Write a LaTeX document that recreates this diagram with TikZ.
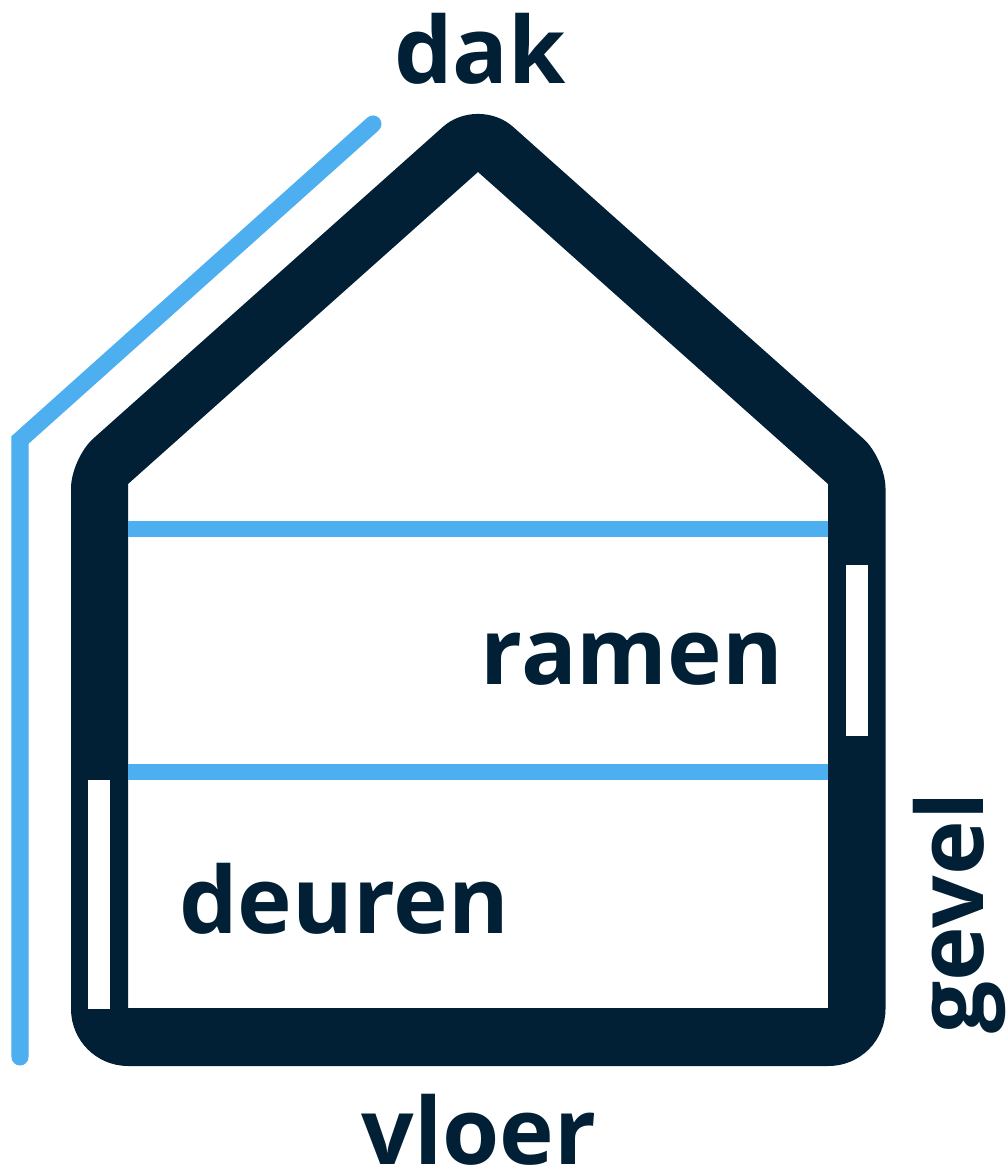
\documentclass[tikz,border=0pt]{standalone}
\usepackage{fontspec}
\setmainfont{Open Sans}
\definecolor{housedark}{HTML}{012035}
\definecolor{lineblue}{HTML}{4DAEF0}
\tikzset{
    label text/.style={font=\fontsize{26.3}{30}\selectfont\bfseries, text=housedark, anchor=base, inner sep=0pt},
    blue line/.style={draw=lineblue, line width=0.17cm},
    window/.style={fill=white}
}
\begin{document}
\begin{tikzpicture}[x=0.01cm, y=-0.01cm]
    \useasboundingbox (0,0) rectangle (1007,1171);

    % House walls
    \fill[housedark, even odd rule]
        (680,275.7) [rounded corners=0.3cm] -- (885.5,458.4)
        [rounded corners=0.57cm] -- (885.5,1066) -- (71,1066)
        [rounded corners=0.3cm] -- (71,458.4) [rounded corners=0.47cm] -- (478,95.6)
        [sharp corners] -- cycle
        (478,172) -- (828,484) -- (828,1008) -- (128,1008) -- (128,484) -- cycle;
    % Floors
    \draw[blue line, line width=0.16cm] (128,529) -- (828,529);
    \draw[blue line, line width=0.16cm] (128,772) -- (828,772);
    % Windows and door
    \fill[window] (846,565) rectangle (868,736);
    \fill[window] (88,780) rectangle (110,1009);
    % Outer line
    \draw[blue line, line cap=round, miter limit=10] (20,1057) -- (20,440) -- (373,124);

    % Labels
    \node[label text] (dak) at (480,84) {dak};
    \node[label text] (ramen) at (632,684) {ramen};
    \node[label text] (deuren) at (344,933) {deuren};
    \node[label text] (vloer) at (479,1164) {vloer};
    \node[label text, rotate=90] (gevel) at (983,913) {gevel};
\end{tikzpicture}
\end{document}
